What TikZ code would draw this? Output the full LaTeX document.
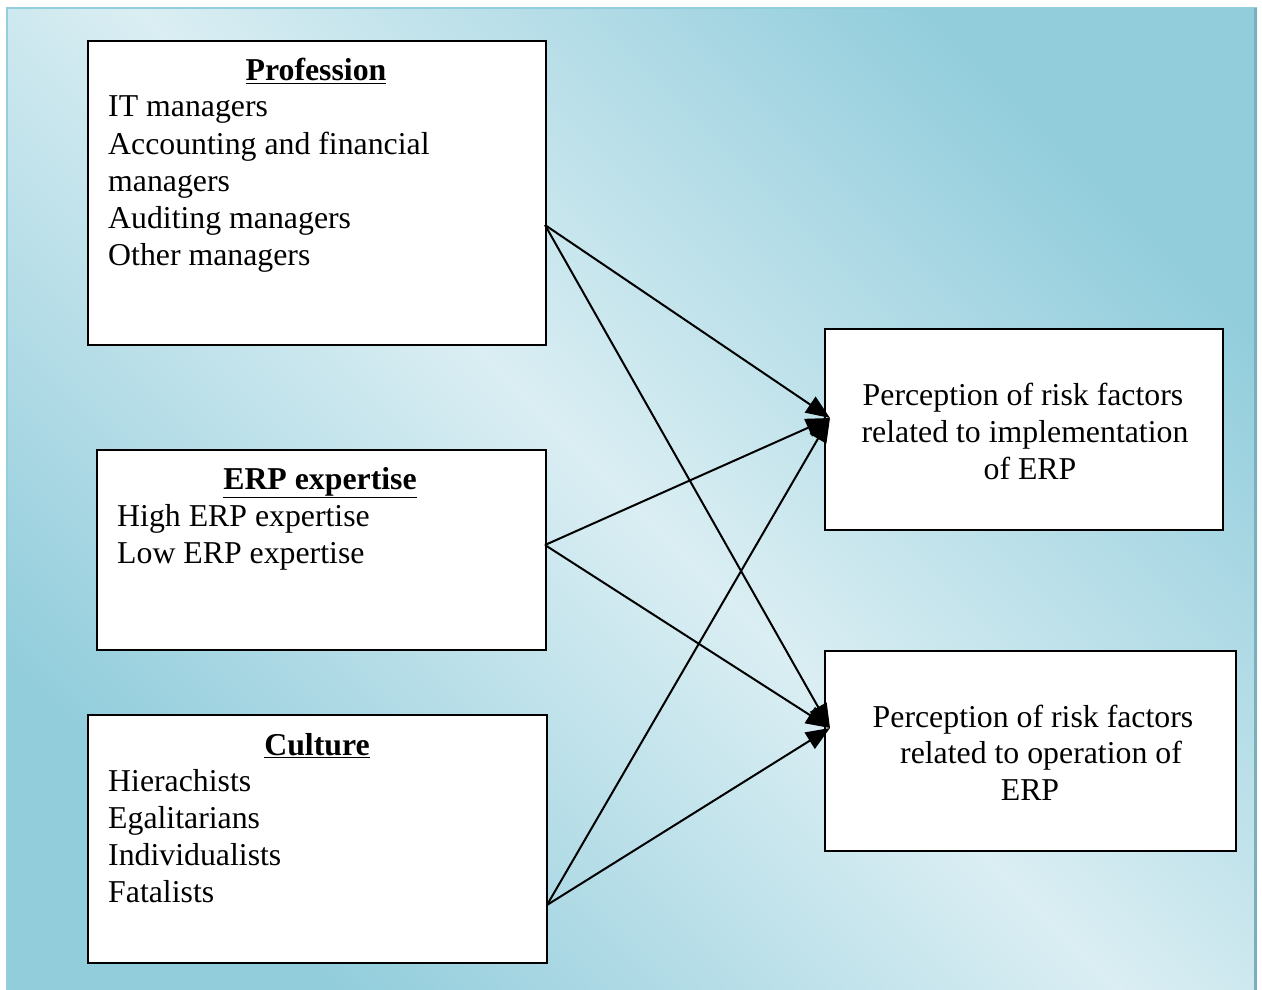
\documentclass[tikz,border=0pt]{standalone}
\usepackage{fontspec}
\setmainfont{Liberation Serif}
\usetikzlibrary{arrows.meta}
\definecolor{bglight}{HTML}{DAEEF3}
\definecolor{bgdark}{HTML}{92CDDC}
\begin{document}
\begin{tikzpicture}[x=1pt,y=-1pt,
  box/.style={draw=black,line width=1.8pt,fill=white,anchor=north west,inner sep=0pt},
  txt/.style={anchor=base west,inner sep=0pt,font=\fontsize{31.8}{37}\selectfont},
  ttl/.style={anchor=base,inner sep=0pt,font=\fontsize{31.8}{37}\selectfont\bfseries},
  ctr/.style={anchor=base,inner sep=0pt,font=\fontsize{31.8}{37}\selectfont},
  link/.style={line width=2pt,-{Triangle[length=24pt,width=19pt]}}]
\useasboundingbox (0,0) rectangle (1262,990);
\shade[top color=bgdark,bottom color=bgdark,middle color=bglight,shading angle=-45] (7,8) rectangle (1257,996);
\draw[bgdark,line width=1.5pt] (7,996) -- (7,8) -- (1257,8);
\draw[bgdark!85!black,line width=3pt] (1255,8) -- (1255,996);
% boxes
\node[box,minimum width=458pt,minimum height=304pt] (prof) at (87,40) {};
\node[box,minimum width=449pt,minimum height=200pt] (erp) at (96,449) {};
\node[box,minimum width=459pt,minimum height=248pt] (cult) at (87,714) {};
\node[box,minimum width=398pt,minimum height=201pt] (impl) at (824,328) {};
\node[box,minimum width=411pt,minimum height=200pt] (oper) at (824,650) {};
% texts
\node[ttl] (profT) at (316,81) {\underline{Profession}};
\node[txt] (p1) at (108,117) {IT managers};
\node[txt] (p2) at (108,154) {Accounting and financial};
\node[txt] (p3) at (108,191) {managers};
\node[txt] (p4) at (108,228) {Auditing managers};
\node[txt] (p5) at (108,265) {Other managers};
\node[ttl] (erpT) at (320,489) {\underline{ERP expertise}};
\node[txt] (e1) at (117,526) {High ERP expertise};
\node[txt] (e2) at (117,563) {Low ERP expertise};
\node[ttl] (cultT) at (317,755) {\underline{Culture}};
\node[txt] (c1) at (108,791) {Hierachists};
\node[txt] (c2) at (108,828) {Egalitarians};
\node[txt] (c3) at (108,865) {Individualists};
\node[txt] (c4) at (108,902) {Fatalists};
\node[ctr] (i1) at (1023,405) {Perception of risk factors};
\node[ctr] (i2) at (1025,442) {related to implementation};
\node[ctr] (i3) at (1030,479) {of ERP};
\node[ctr] (o1) at (1033,727) {Perception of risk factors};
\node[ctr] (o2) at (1041,763) {related to operation of};
\node[ctr] (o3) at (1030,800) {ERP};
% connector points
\coordinate (sp) at (545,225);
\coordinate (se) at (545,545);
\coordinate (sc) at (547,905);
\coordinate (ti) at (830,418);
\coordinate (to) at (830,728);
\draw[link] (sp) -- (ti);
\draw[link] (sp) -- (to);
\draw[link] (se) -- (ti);
\draw[link] (se) -- (to);
\draw[link] (sc) -- (ti);
\draw[link] (sc) -- (to);
\end{tikzpicture}
\end{document}
